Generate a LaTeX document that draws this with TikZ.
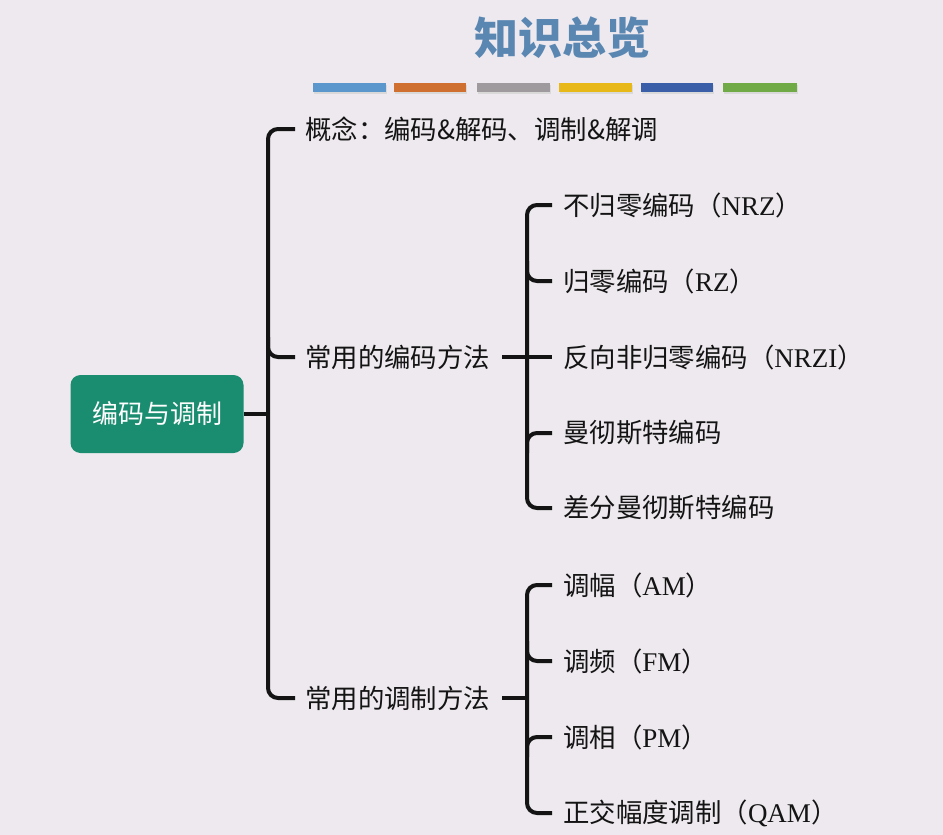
\documentclass[tikz,border=0pt]{standalone}
\usepackage{fontspec}
\setmainfont{Noto Sans CJK SC}
\newfontfamily\lat{Liberation Serif}
\newcommand{\en}[1]{{\lat\fontsize{27}{30}\selectfont #1}}
\definecolor{bgc}{RGB}{237,233,238}
\definecolor{rootc}{RGB}{26,140,112}
\definecolor{titlec}{RGB}{90,134,178}
\definecolor{linec}{RGB}{20,20,20}
\definecolor{bA}{RGB}{91,150,205}
\definecolor{bB}{RGB}{208,112,48}
\definecolor{bC}{RGB}{158,154,158}
\definecolor{bD}{RGB}{232,184,24}
\definecolor{bE}{RGB}{58,95,168}
\definecolor{bF}{RGB}{112,170,70}
\tikzset{
  x=1pt, y=-1pt,
  lbl/.style={anchor=west, inner sep=0pt, text=linec, font=\fontsize{26.4}{30}\selectfont},
  rootbox/.style={fill=rootc, rounded corners=10pt, minimum width=173pt, minimum height=78pt, text=white, font=\fontsize{26}{30}\selectfont},
  conn/.style={draw=linec, line width=4pt, rounded corners=10pt},
}
\begin{document}
\begin{tikzpicture}
\useasboundingbox (0,0) rectangle (943,835);
\fill[bgc] (0,0) rectangle (943,835);
% title
\node[text=titlec, font=\fontsize{44}{50}\selectfont\bfseries] (title) at (562,38) {知识总览};
% colour bars with soft shadow
\foreach \a/\b/\c in {313/386/bA,394/466/bB,477/550/bC,559/632/bD,641/713/bE,723/797/bF}{
  \fill[black!15] (\a+1,85) rectangle (\b+1,94);
  \fill[\c] (\a,83) rectangle (\b,92);
}
% root
\node[rootbox] (root) at (157,414) {编码与调制};
% level 1
\node[lbl] (c1) at (305,129) {概念：编码\&解码、调制\&解调};
\node[lbl] (c2) at (305,357) {常用的编码方法};
\node[lbl] (c3) at (305,698) {常用的调制方法};
\coordinate (sp1) at (268,414);
\draw[conn] (root.east) -- (sp1);
\draw[conn] ([xshift=-10pt]c1.west) -- (sp1 |- c1.west) -- (sp1 |- c3.west) -- ([xshift=-10pt]c3.west);
\draw[conn] ([yshift=20pt]sp1 |- c2.west) -- (sp1 |- c2.west) -- ([xshift=-10pt]c2.west);
% coding methods
\node[lbl] (d1) at (563,205) {不归零编码（\en{NRZ}）};
\node[lbl] (d2) at (563,281) {归零编码（\en{RZ}）};
\node[lbl] (d3) at (563,357) {反向非归零编码（\en{NRZI}）};
\node[lbl] (d4) at (563,433) {曼彻斯特编码};
\node[lbl] (d5) at (563,508) {差分曼彻斯特编码};
\coordinate (sp2) at (527,357);
\draw[conn] ([xshift=12pt]c2.east) -- (sp2);
\draw[conn] ([xshift=-11pt]d1.west) -- (sp2 |- d1.west) -- (sp2 |- d5.west) -- ([xshift=-11pt]d5.west);
\draw[conn] ([yshift=20pt]sp2 |- d2.west) -- (sp2 |- d2.west) -- ([xshift=-11pt]d2.west);
\draw[conn] (sp2) -- ([xshift=-11pt]d3.west);
\draw[conn] ([yshift=-20pt]sp2 |- d4.west) -- (sp2 |- d4.west) -- ([xshift=-11pt]d4.west);
% modulation methods
\node[lbl] (e1) at (563,585) {调幅（\en{AM}）};
\node[lbl] (e2) at (563,661) {调频（\en{FM}）};
\node[lbl] (e3) at (563,737) {调相（\en{PM}）};
\node[lbl] (e4) at (563,813) {正交幅度调制（\en{QAM}）};
\coordinate (sp3) at (527,698);
\draw[conn] ([xshift=12pt]c3.east) -- (sp3);
\draw[conn] ([xshift=-11pt]e1.west) -- (sp3 |- e1.west) -- (sp3 |- e4.west) -- ([xshift=-11pt]e4.west);
\draw[conn] ([yshift=20pt]sp3 |- e2.west) -- (sp3 |- e2.west) -- ([xshift=-11pt]e2.west);
\draw[conn] ([yshift=-20pt]sp3 |- e3.west) -- (sp3 |- e3.west) -- ([xshift=-11pt]e3.west);
\end{tikzpicture}
\end{document}
